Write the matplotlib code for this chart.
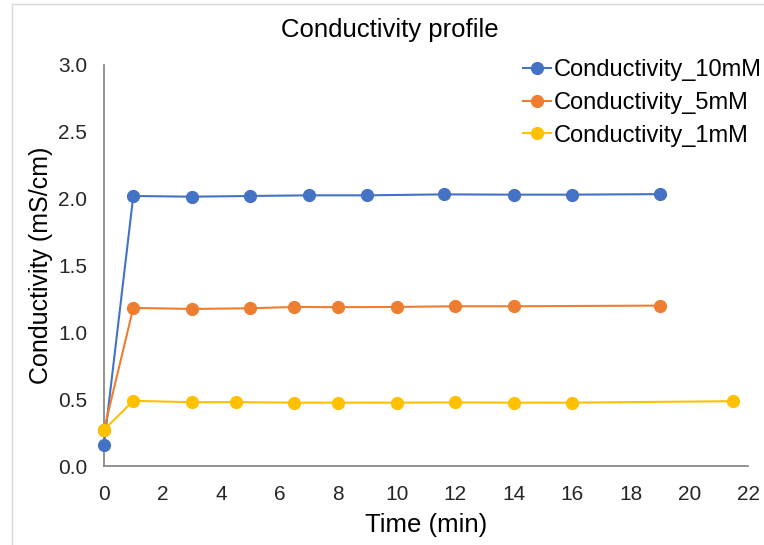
import matplotlib.pyplot as plt

plt.rcParams['font.family'] = ['Liberation Sans', 'DejaVu Sans']

# data
t_10mM = [0, 1, 3, 5, 7, 9, 11.6, 14, 16, 19]
c_10mM = [0.16, 2.02, 2.015, 2.02, 2.025, 2.025, 2.032, 2.03, 2.03, 2.034]

t_5mM = [0, 1, 3, 5, 6.5, 8, 10, 12, 14, 19]
c_5mM = [0.27, 1.183, 1.175, 1.18, 1.19, 1.188, 1.19, 1.195, 1.195, 1.20]

t_1mM = [0, 1, 3, 4.5, 6.5, 8, 10, 12, 14, 16, 21.5]
c_1mM = [0.27, 0.488, 0.477, 0.478, 0.474, 0.474, 0.474, 0.476, 0.474, 0.474, 0.485]

labels = ['Conductivity_10mM', 'Conductivity_5mM', 'Conductivity_1mM']
colors = ['#4472C4', '#ED7D31', '#FFC000']

fig = plt.figure(figsize=(7.64, 5.45), dpi=100)
ax = fig.add_axes([104/764, 1 - 466/545, (748-104)/764, (466-65)/545])

for t, c, lab, col in zip([t_10mM, t_5mM, t_1mM], [c_10mM, c_5mM, c_1mM], labels, colors):
    ax.plot(t, c, '-o', color=col, label=lab, lw=1.5, ms=8.5, clip_on=False, zorder=3)

ax.set_xlim(0, 22)
ax.set_ylim(0, 3.0)
ax.set_xticks(range(0, 23, 2))
ax.set_yticks([0, 0.5, 1.0, 1.5, 2.0, 2.5, 3.0])
ax.set_yticklabels(['0.0', '0.5', '1.0', '1.5', '2.0', '2.5', '3.0'])
ax.tick_params(labelsize=15, length=0, labelcolor='#262626')
ax.tick_params(axis='y', pad=12)
ax.tick_params(axis='x', pad=14)
for s in ['top', 'right']:
    ax.spines[s].set_visible(False)
for s in ['left', 'bottom']:
    ax.spines[s].set_color('#7f7f7f')
    ax.spines[s].set_linewidth(1.2)

ax.set_xlabel('Time (min)', fontsize=18.5, labelpad=6)
ax.set_ylabel('Conductivity (mS/cm)', fontsize=18, labelpad=4)
fig.text(390/764, 1 - 30/545, 'Conductivity profile', fontsize=18.5, ha='center', va='center')

ax.legend(loc='upper right', bbox_to_anchor=(771/764, 1 - 50/545), bbox_transform=fig.transFigure,
          frameon=False, fontsize=17, handlelength=1.2, handletextpad=0.1,
          labelspacing=0.45, borderaxespad=0)

# chart frame edges visible in the reference
fig.add_artist(plt.Line2D([12/764, 12/764], [0, 1 - 4/545], color='#d9d9d9', lw=1, transform=fig.transFigure))
fig.add_artist(plt.Line2D([12/764, 1], [1 - 4/545, 1 - 4/545], color='#d9d9d9', lw=1, transform=fig.transFigure))

fig.savefig('out.png', dpi=100)
